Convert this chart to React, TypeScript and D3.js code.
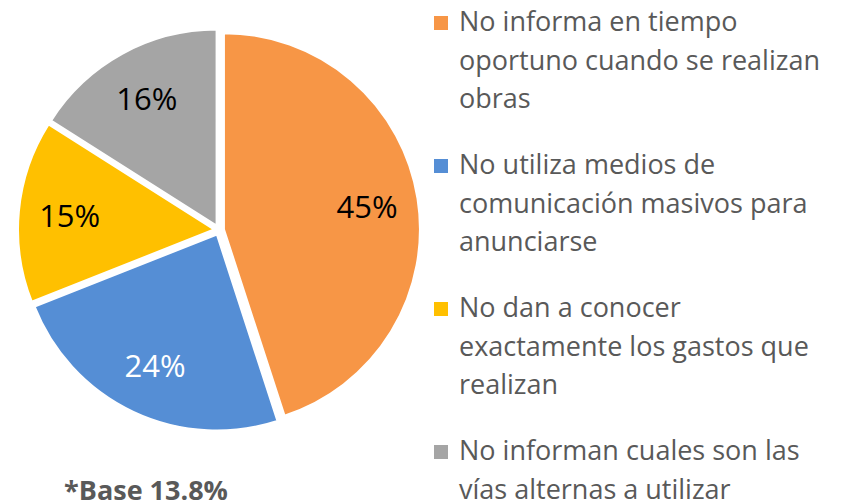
import React from "react";
import * as d3 from "d3";

const categories = [
  "No informa en tiempo\noportuno cuando se realizan\nobras",
  "No utiliza medios de\ncomunicación masivos para\nanunciarse",
  "No dan a conocer\nexactamente los gastos que\nrealizan",
  "No informan cuales son las\nvías alternas a utilizar",
];
const values = [45, 24, 15, 16];
const colors = ["#F79646", "#558ED5", "#FFC000", "#A5A5A5"];
const labelColors = ["#000000", "#FFFFFF", "#000000", "#000000"];
const footnote = "*Base 13.8%";

const W = 847;
const H = 504;
const cx = 219;
const cy = 230;
const R = 196;
const explode = 5;
const font = "'Open Sans', sans-serif";

export default function App() {
  const pie = d3.pie<number>().sort(null).value((d) => d)(values);
  const arc = d3.arc<d3.PieArcDatum<number>>().innerRadius(0).outerRadius(R);
  const labelR = 150;
  const labelArc = d3.arc<d3.PieArcDatum<number>>().innerRadius(labelR).outerRadius(labelR);
  const total = d3.sum(values);
  const legendY = d3.scaleLinear().domain([0, 1]).range([31, 174]);

  return (
    <svg width={W} height={H} style={{ position: "absolute", left: 0, top: 0, background: "#fff" }}>
      <g transform={`translate(${cx},${cy})`}>
        {pie.map((p, i) => {
          const mid = (p.startAngle + p.endAngle) / 2;
          const dx = explode * Math.sin(mid);
          const dy = -explode * Math.cos(mid);
          return (
            <path key={i} d={arc(p) || ""} fill={colors[i]} stroke="#fff" strokeWidth={2}
              transform={`translate(${dx},${dy})`} />
          );
        })}
        {pie.map((p, i) => {
          const [lx, ly] = labelArc.centroid(p);
          return (
            <text key={i} x={lx} y={ly} dy="0.36em" textAnchor="middle" fontFamily={font}
              fontSize={31} fill={labelColors[i]}>
              {`${Math.round((values[i] / total) * 100)}%`}
            </text>
          );
        })}
      </g>
      <text x={146} y={500} textAnchor="middle" fontFamily={font} fontWeight="bold" fontSize={27} fill="#595959">
        {footnote}
      </text>
      {categories.map((c, i) => {
        const y0 = legendY(i);
        return (
          <g key={i}>
            <rect x={434} y={y0 - 15} width={14} height={14} fill={colors[i]} />
            {c.split("\n").map((line, j) => (
              <text key={j} x={459} y={y0 + j * 38.5} fontFamily={font} fontSize={27} fill="#595959">
                {line}
              </text>
            ))}
          </g>
        );
      })}
    </svg>
  );
}
